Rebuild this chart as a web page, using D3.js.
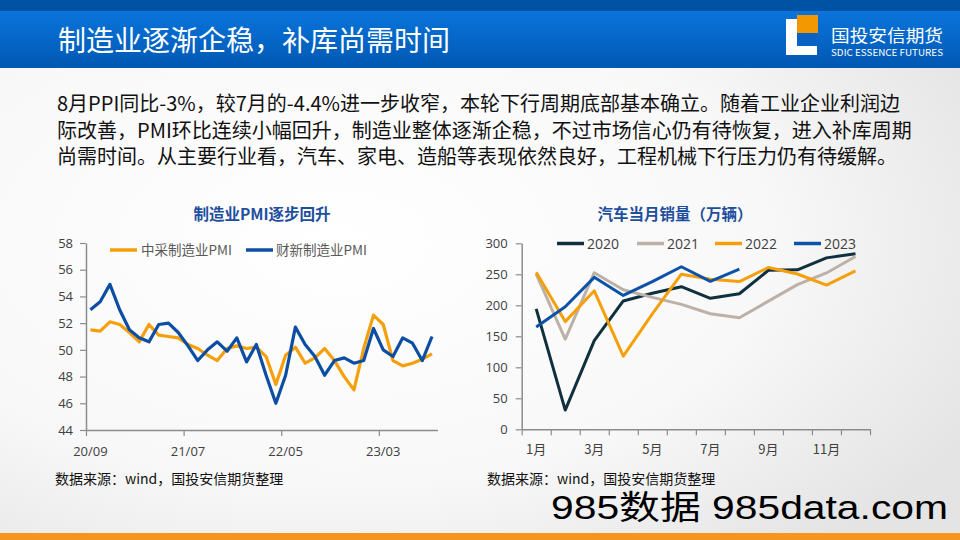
<!DOCTYPE html>
<html><head><meta charset="utf-8">
<script src="https://cdn.jsdelivr.net/npm/d3@7/dist/d3.min.js"></script>
<style>
html,body{margin:0;padding:0;background:#fff;}
svg{display:block;}
text{font-family:"Noto Sans CJK SC","Noto Sans",sans-serif;}
</style></head>
<body>
<svg id="c" width="960" height="540"></svg>
<script>
// ---------- data ----------
const pmiMonths = ["20/09","20/10","20/11","20/12","21/01","21/02","21/03","21/04","21/05","21/06","21/07","21/08",
  "21/09","21/10","21/11","21/12","22/01","22/02","22/03","22/04","22/05","22/06","22/07","22/08",
  "22/09","22/10","22/11","22/12","23/01","23/02","23/03","23/04","23/05","23/06","23/07","23/08"];
const pmiTickLabels = ["20/09","21/07","22/05","23/03"];
const pmiOfficial = [51.5,51.4,52.1,51.9,51.3,50.6,51.9,51.1,51.0,50.9,50.4,50.1,
  49.6,49.2,50.1,50.3,50.1,50.2,49.5,47.4,49.6,50.2,49.0,49.4,
  50.1,49.2,48.0,47.0,50.1,52.6,51.9,49.2,48.8,49.0,49.3,49.7];
const pmiCaixin = [53.0,53.6,54.9,53.0,51.5,50.9,50.6,51.9,52.0,51.3,50.3,49.2,
  50.0,50.6,49.9,50.9,49.1,50.4,48.1,46.0,48.1,51.7,50.4,49.5,
  48.1,49.2,49.4,49.0,49.2,51.6,50.0,49.5,50.9,50.5,49.2,51.0];
const pmiSeriesNames = ["中采制造业PMI","财新制造业PMI"];
const pmiYTicks = [44,46,48,50,52,54,56,58];

const carMonths = ["1月","2月","3月","4月","5月","6月","7月","8月","9月","10月","11月","12月"];
const carTickLabels = ["1月","3月","5月","7月","9月","11月"];
const car2020 = [194.1,31.0,143.0,207.0,219.4,230.0,211.2,218.6,256.5,257.3,276.5,283.1];
const car2021 = [250.3,145.5,252.6,225.2,212.8,201.5,186.4,179.9,206.7,233.3,252.2,278.6];
const car2022 = [253.1,173.7,223.4,118.1,186.2,250.2,242.0,238.3,261.0,250.5,232.6,255.6];
const car2023 = [164.9,197.6,245.1,215.9,238.2,262.2,238.7,258.2];
const carSeriesNames = ["2020","2021","2022","2023"];
const carYTicks = [0,50,100,150,200,250,300];

const headerTitle = "制造业逐渐企稳，补库尚需时间";
const bodyLines = [
  "8月PPI同比-3%，较7月的-4.4%进一步收窄，本轮下行周期底部基本确立。随着工业企业利润边",
  "际改善，PMI环比连续小幅回升，制造业整体逐渐企稳，不过市场信心仍有待恢复，进入补库周期",
  "尚需时间。从主要行业看，汽车、家电、造船等表现依然良好，工程机械下行压力仍有待缓解。"
];
const chartTitles = ["制造业PMI逐步回升","汽车当月销量（万辆）"];
const sourceText = "数据来源：wind，国投安信期货整理";

// ---------- drawing ----------
const svg = d3.select("#c");
const defs = svg.append("defs");
const bg = defs.append("radialGradient").attr("id","bg").attr("cx","0.35").attr("cy","0.45").attr("r","0.75");
bg.append("stop").attr("offset","0").attr("stop-color","#ffffff");
bg.append("stop").attr("offset","0.6").attr("stop-color","#f8f8f8");
bg.append("stop").attr("offset","1").attr("stop-color","#e4e4e4");
const hg = defs.append("linearGradient").attr("id","hg").attr("x1",0).attr("y1",0).attr("x2",0).attr("y2",1);
hg.append("stop").attr("offset","0").attr("stop-color","#0a74dc");
hg.append("stop").attr("offset","1").attr("stop-color","#0058b2");

svg.append("rect").attr("width",960).attr("height",540).attr("fill","url(#bg)");
// header
svg.append("rect").attr("x",0).attr("y",0).attr("width",960).attr("height",11).attr("fill","#0052a5");
svg.append("rect").attr("x",0).attr("y",11).attr("width",960).attr("height",57).attr("fill","url(#hg)");
svg.append("text").attr("x",58).attr("y",51).attr("fill","#fff").attr("font-size",28).text(headerTitle);
// logo
const lg = svg.append("g");
lg.append("rect").attr("x",786).attr("y",19).attr("width",31).attr("height",36).attr("fill","#ffffff");
lg.append("rect").attr("x",797).attr("y",26).attr("width",20).attr("height",20).attr("fill","#0a62c4");
lg.append("rect").attr("x",797).attr("y",15).attr("width",21).attr("height",18).attr("fill","#f39800");
lg.append("text").attr("x",831).attr("y",42).attr("fill","#fff").attr("font-size",17)
  .attr("textLength",112).attr("lengthAdjust","spacingAndGlyphs").text("国投安信期货");
lg.append("text").attr("x",831).attr("y",55.5).attr("fill","#fff").attr("font-size",9)
  .attr("textLength",112).attr("lengthAdjust","spacingAndGlyphs").text("SDIC ESSENCE FUTURES");

// body text
svg.append("g").selectAll("text").data(bodyLines).join("text")
  .attr("x",57).attr("y",(d,i)=>111+i*26.5).attr("font-size",20).attr("fill","#111").text(d=>d);

// chart titles
svg.append("text").attr("x",262).attr("y",220).attr("text-anchor","middle").attr("font-size",15.5)
  .attr("font-weight","bold").attr("fill","#1f4e9e").text(chartTitles[0]);
svg.append("text").attr("x",675).attr("y",220).attr("text-anchor","middle").attr("font-size",15.5)
  .attr("font-weight","bold").attr("fill","#1f4e9e").text(chartTitles[1]);

function styleAxis(g){
  g.selectAll("path.domain").attr("stroke","#8c8c8c").attr("stroke-width",1.5);
  g.selectAll(".tick line").attr("stroke","#8c8c8c").attr("stroke-width",1.2);
  g.selectAll(".tick text").attr("fill","#404040").attr("font-size",13)
    .style("font-family",'"Open Sans","Noto Sans",sans-serif');
}

// ---- left chart ----
const xL = d3.scaleLinear().domain([0,36]).range([86,437.4]);
const yL = d3.scaleLinear().domain([44,58]).range([430,243]);
const offL = 0.45;
const gYL = svg.append("g").attr("transform","translate(86,0)")
  .call(d3.axisLeft(yL).tickValues(pmiYTicks).tickSize(6).tickSizeOuter(0).tickPadding(7));
styleAxis(gYL);
const tickIdx = pmiTickLabels.map(l=>pmiMonths.indexOf(l));
const gXL = svg.append("g").attr("transform","translate(0,430)")
  .call(d3.axisBottom(xL).tickValues(tickIdx).tickSize(6).tickSizeOuter(0).tickFormat(""));
styleAxis(gXL);
svg.append("g").selectAll("text").data(pmiTickLabels).join("text")
  .attr("x",d=>xL(pmiMonths.indexOf(d)+offL)).attr("y",456).attr("text-anchor","middle")
  .attr("font-size",13).attr("fill","#404040").style("font-family",'"Open Sans","Noto Sans",sans-serif').text(d=>d);

const lineL = d3.line().x((d,i)=>xL(i+offL)).y(d=>yL(d)).curve(d3.curveLinear);
const pmiColors = ["#f5a00a","#0c4ea3"];
[pmiOfficial,pmiCaixin].forEach((s,k)=>{
  svg.append("path").datum(s).attr("d",lineL).attr("fill","none").attr("stroke",pmiColors[k])
    .attr("stroke-width",3.2).attr("stroke-linejoin","round");
});
// left legend
const legL = [{x:110,tx:141},{x:246,tx:276}];
pmiSeriesNames.forEach((n,k)=>{
  svg.append("line").attr("x1",legL[k].x).attr("x2",legL[k].x+27).attr("y1",250).attr("y2",250)
    .attr("stroke",pmiColors[k]).attr("stroke-width",3.5);
  svg.append("text").attr("x",legL[k].tx).attr("y",255).attr("font-size",13.5).attr("fill","#595959").text(n);
});

// ---- right chart ----
const xR = d3.scaleLinear().domain([0,12]).range([521.7,870]);
const yR = d3.scaleLinear().domain([0,300]).range([429.3,243.3]);
const gYR = svg.append("g").attr("transform","translate(521.7,0)")
  .call(d3.axisLeft(yR).tickValues(carYTicks).tickSize(6).tickSizeOuter(0).tickPadding(8));
styleAxis(gYR);
const gXR = svg.append("g").attr("transform","translate(0,429.3)")
  .call(d3.axisBottom(xR).tickValues(d3.range(0,13)).tickSize(6).tickSizeOuter(0).tickFormat(""));
styleAxis(gXR);
svg.append("g").selectAll("text").data(carTickLabels).join("text")
  .attr("x",d=>xR(carMonths.indexOf(d)+0.5)).attr("y",454).attr("text-anchor","middle")
  .attr("font-size",13).attr("fill","#404040").text(d=>d);

const lineR = d3.line().x((d,i)=>xR(i+0.5)).y(d=>yR(d));
const carColors = ["#10303f","#bdb1a7","#f5a00a","#0c52a8"];
[car2020,car2021,car2022,car2023].forEach((s,k)=>{
  svg.append("path").datum(s).attr("d",lineR).attr("fill","none").attr("stroke",carColors[k])
    .attr("stroke-width",3).attr("stroke-linejoin","round");
});
const legR = [557,637,715,794];
carSeriesNames.forEach((n,k)=>{
  svg.append("line").attr("x1",legR[k]).attr("x2",legR[k]+27).attr("y1",243.5).attr("y2",243.5)
    .attr("stroke",carColors[k]).attr("stroke-width",3.5);
  svg.append("text").attr("x",legR[k]+30).attr("y",248.5).attr("font-size",14).attr("fill","#404040")
    .style("font-family",'"Open Sans","Noto Sans",sans-serif').text(n);
});

// sources
svg.append("text").attr("x",55).attr("y",484).attr("font-size",14).attr("fill","#111").text(sourceText);
svg.append("text").attr("x",487).attr("y",484).attr("font-size",14).attr("fill","#111").text(sourceText);

// watermark and bottom stripe
svg.append("text").attr("x",551).attr("y",519).attr("font-size",33).attr("fill","#000")
  .attr("textLength",397).attr("lengthAdjust","spacingAndGlyphs")
  .style("font-family",'"Liberation Sans","Noto Sans CJK SC",sans-serif').text("985数据 985data.com");
svg.append("rect").attr("x",0).attr("y",533).attr("width",960).attr("height",7).attr("fill","#f7941d");
</script>
</body></html>
